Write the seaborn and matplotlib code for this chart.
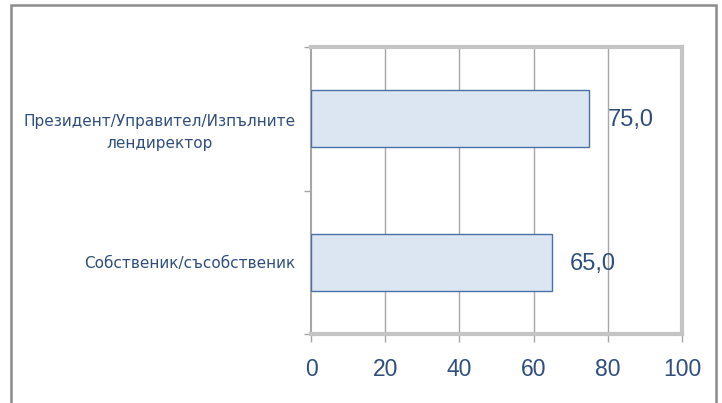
import matplotlib
matplotlib.use("Agg")
import matplotlib.pyplot as plt
import matplotlib.transforms as mtransforms
from matplotlib.patches import Rectangle
import seaborn as sns
import pandas as pd

categories = ["Президент/Управител/Изпълните\nлендиректор", "Собственик/съсобственик"]
values = [75.0, 65.0]
x_ticks = [0, 20, 40, 60, 80, 100]

TEXT = "#2F4E7E"
df = pd.DataFrame({"category": categories, "value": values})

sns.set_theme(style="white")
plt.rcParams["font.family"] = ["Liberation Sans", "DejaVu Sans"]

fig = plt.figure(figsize=(7.22, 4.03), dpi=100)
ax = fig.add_axes([311 / 722, 1 - 334 / 403, (682 - 311) / 722, (334 - 47) / 403])

sns.barplot(data=df, x="value", y="category", order=categories, orient="h",
            color="#DCE6F2", edgecolor="#4A72A8", linewidth=1.0, width=0.4,
            saturation=1, ax=ax, zorder=3)

ax.set_xlim(0, 100)
ax.set_ylim(1.5, -0.5)
ax.set_xticks(x_ticks)
ax.set_xticklabels([str(t) for t in x_ticks])
ax.set_xlabel("")
ax.set_ylabel("")

# vertical gridlines
for t in x_ticks[1:-1]:
    ax.axvline(t, color="#A6A6A6", lw=1.0, zorder=1)

# y-axis ticks sit on category boundaries, labels at category centres
ax.set_yticks([-0.5, 0.5, 1.5], minor=False)
ax.set_yticklabels([])
ax.set_yticks([0, 1], minor=True)
ax.set_yticklabels(categories, minor=True)
ax.tick_params(axis="y", which="major", left=True, length=5, width=1, color="#A6A6A6")
ax.tick_params(axis="y", which="minor", left=False, labelsize=11, labelcolor=TEXT, pad=7)
ax.tick_params(axis="x", bottom=True, length=6, width=1, color="#A6A6A6",
               labelsize=16.5, labelcolor=TEXT, pad=11)
for lab in ax.get_yticklabels(minor=True):
    lab.set_fontfamily("DejaVu Sans")
    lab.set_horizontalalignment("right")
    lab.set_multialignment("center")
    lab.set_linespacing(1.6)
first = ax.get_yticklabels(minor=True)[0]
first.set_transform(first.get_transform() +
                    mtransforms.ScaledTranslation(0, -9 / 100, fig.dpi_scale_trans))

for side in ["top", "right", "bottom"]:
    ax.spines[side].set_color("#C4C4C4")
    ax.spines[side].set_linewidth(3.0)
ax.spines["left"].set_color("#A6A6A6")
ax.spines["left"].set_linewidth(1.5)

# value labels next to bar ends
for i, v in enumerate(values):
    ax.annotate(f"{v:.1f}".replace(".", ","), xy=(v, i), xytext=(13, -1),
                textcoords="offset points", va="center", ha="left",
                fontsize=17, color=TEXT)

# outer chart frame
fig.patches.append(Rectangle((11 / 722, -0.1), (716 - 11) / 722, 1.1 - 5 / 403,
                             transform=fig.transFigure, fill=False,
                             edgecolor="#8C8C8C", lw=1.8))

fig.savefig("out.png", dpi=100)
